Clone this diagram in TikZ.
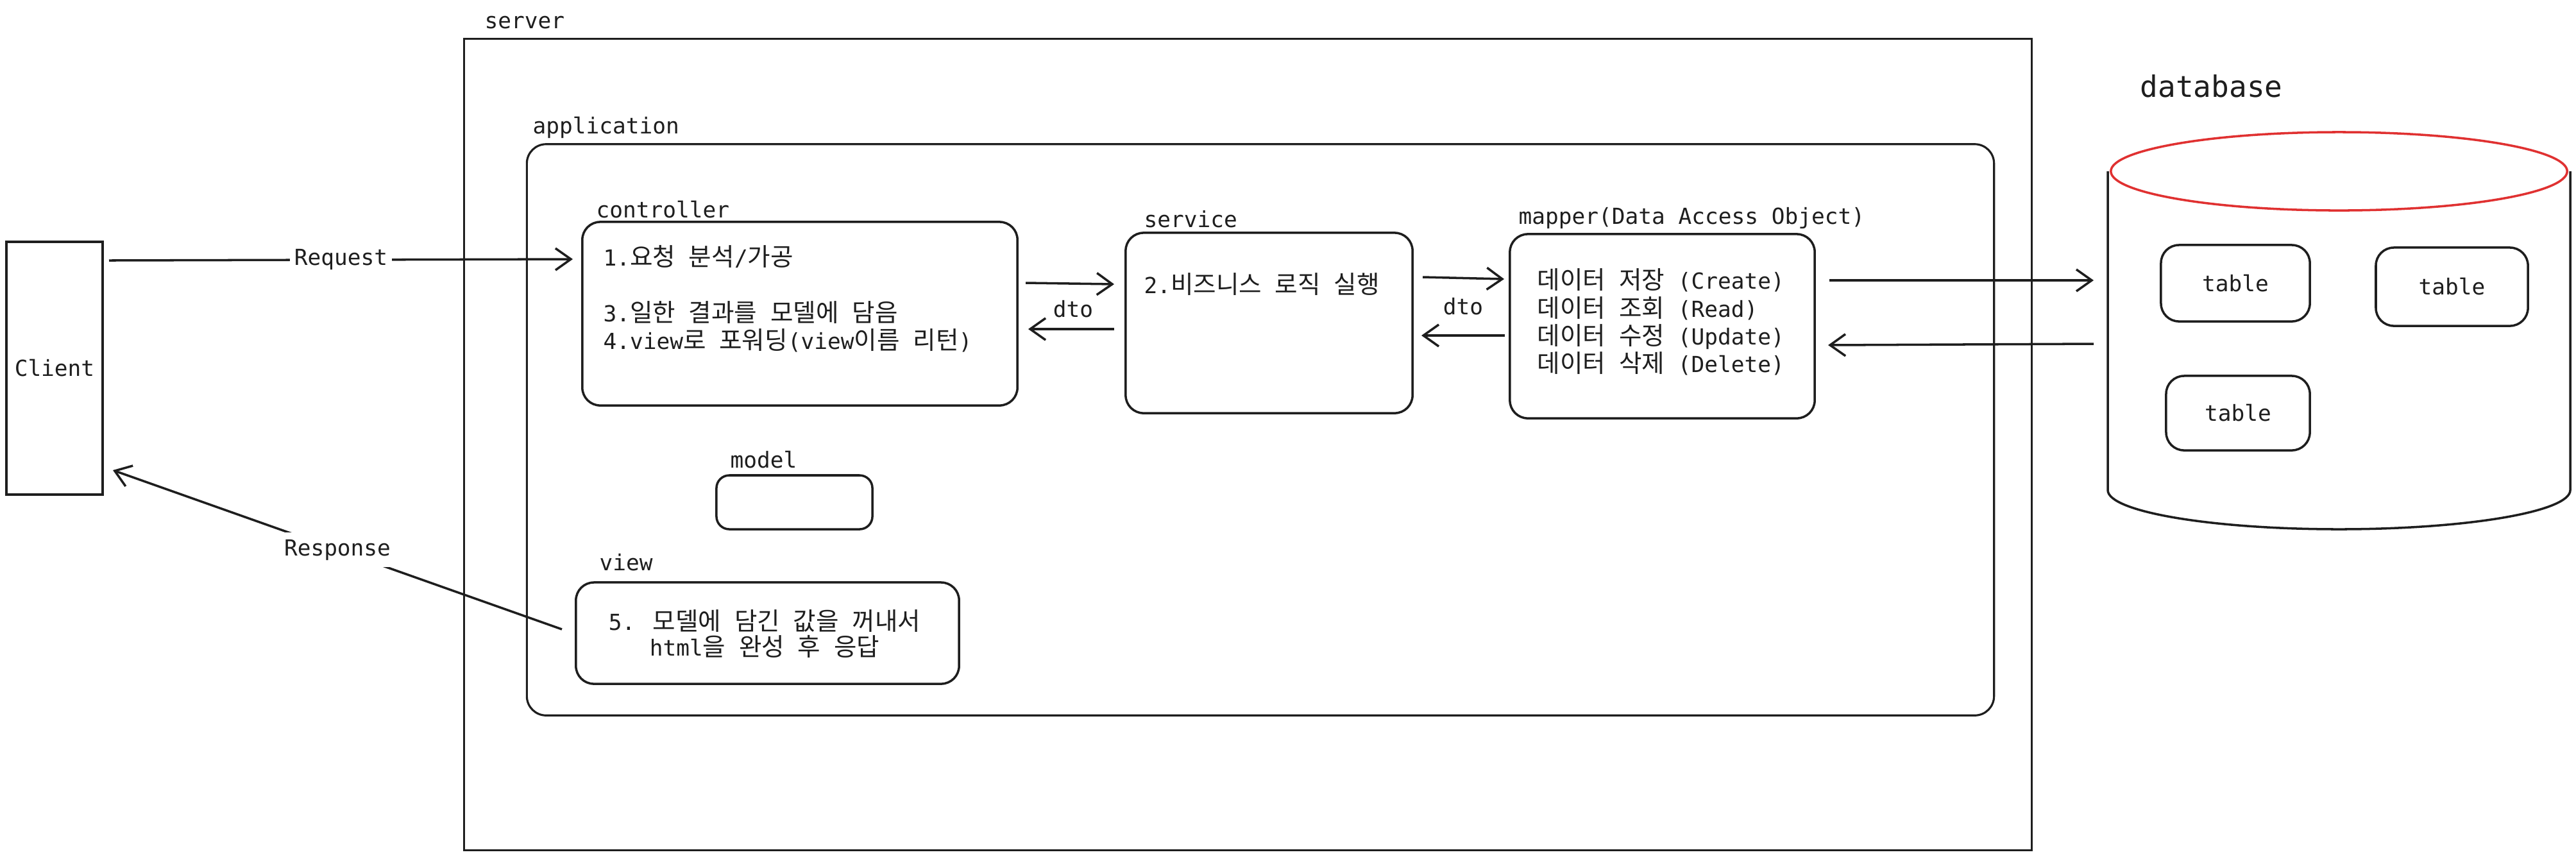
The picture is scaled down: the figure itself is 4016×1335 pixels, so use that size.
\documentclass[tikz,border=0pt]{standalone}
\usepackage{fontspec}
\setmainfont{DejaVu Sans Mono}
\newfontfamily\krfont[Scale=1.12]{Noto Sans CJK KR}
\newcommand\kr[1]{{\krfont #1}}
\usetikzlibrary{arrows.meta}
\definecolor{ink}{HTML}{1E1E1E}
\definecolor{exred}{HTML}{E03131}
\begin{document}
\begin{tikzpicture}[x=0.01cm, y=-0.01cm,
  txt/.style={text=ink, font=\fontsize{9.8}{12.3}\selectfont, inner sep=0pt},
  lbl/.style={txt, anchor=west, text height=0.25cm, text depth=0.07cm},
  box/.style={draw=ink, line width=1pt, rounded corners=0.28cm, inner sep=0pt},
  arr/.style={draw=ink, line width=1pt, -{Straight Barb[length=0.24cm, width=0.34cm, line width=1pt]}},
]
\useasboundingbox[fill=white] (0,0) rectangle (4016,1335);

% containers
\node[draw=ink, line width=0.8pt, minimum width=24.43cm, minimum height=12.64cm, inner sep=0pt] (server) at (1945.5,693) {};
\node[lbl] (serverlbl) at (755,35) {server};
\node[box, line width=0.9pt, rounded corners=0.3cm, minimum width=22.86cm, minimum height=8.90cm] (app) at (1965,670) {};
\node[lbl] (applbl) at (830,199) {application};

% client
\node[draw=ink, line width=1pt, minimum width=1.5cm, minimum height=3.94cm, inner sep=0pt, txt] (client) at (85,574) {Client};

% controller
\node[box, minimum width=6.78cm, minimum height=2.86cm] (ctrl) at (1247,489) {};
\node[lbl] (ctrllbl) at (929,330) {controller};
\node[txt, anchor=west, align=left] (ctrltxt) at (940,466) {1.\kr{요청} \kr{분석}/\kr{가공}\\[12.3pt]
3.\kr{일한} \kr{결과를} \kr{모델에} \kr{담음}\\
4.view\kr{로} \kr{포워딩}(view\kr{이름} \kr{리턴})};

% service
\node[box, minimum width=4.47cm, minimum height=2.81cm] (svc) at (1978.5,503.5) {};
\node[lbl] (svclbl) at (1783,345) {service};
\node[lbl] (svctxt) at (1783,448) {2.\kr{비즈니스} \kr{로직} \kr{실행}};

% mapper
\node[box, minimum width=4.75cm, minimum height=2.87cm] (mapper) at (2591.5,508.5) {};
\node[lbl] (mapperlbl) at (2367,340) {mapper(Data Access Object)};
\node[txt, anchor=west, align=left] (mappertxt) at (2396,502) {\kr{데이터} \kr{저장} (Create)\\
\kr{데이터} \kr{조회} (Read)\\
\kr{데이터} \kr{수정} (Update)\\
\kr{데이터} \kr{삭제} (Delete)};

% model
\node[box, rounded corners=0.2cm, minimum width=2.43cm, minimum height=0.84cm] (model) at (1238.5,783) {};
\node[lbl] (modellbl) at (1138,720) {model};

% view
\node[box, minimum width=5.97cm, minimum height=1.58cm] (view) at (1196.5,987) {};
\node[lbl] (viewlbl) at (934,880) {view};
\node[txt, font=\fontsize{9.8}{11.4}\selectfont, align=center] (viewtxt) at (1192,988) {5. \kr{모델에} \kr{담긴} \kr{값을} \kr{꺼내서}\\
html\kr{을} \kr{완성} \kr{후} \kr{응답}};

% database
\node[lbl, font=\fontsize{13.1}{15}\selectfont, text height=0.33cm, text depth=0.09cm] (dblbl) at (3336,139) {database};
\draw[ink, line width=1pt] (3286,267) -- (3286,764) .. controls (3286,797.7) and (3447.4,825) .. (3646.5,825)
  .. controls (3845.6,825) and (4007,797.7) .. (4007,764) -- (4007,267);
\draw[exred, line width=1pt] (3646.5,267) ellipse [x radius=3.555cm, y radius=0.61cm];
\node[box, minimum width=2.32cm, minimum height=1.19cm, txt] (t1) at (3485,441.5) {table};
\node[box, minimum width=2.37cm, minimum height=1.22cm, txt] (t2) at (3822.5,447) {table};
\node[box, minimum width=2.24cm, minimum height=1.16cm, txt] (t3) at (3489,644) {table};

% connector endpoints
\coordinate (rq1) at (170,406);
\coordinate (rq2) at (893,404);
\coordinate (rs1) at (876,981);
\coordinate (rs2) at (176,733);
\coordinate (cs1) at (1599,441);
\coordinate (cs2) at (1737,443);
\coordinate (sc1) at (1737,513);
\coordinate (sc2) at (1603,513);
\coordinate (sm1) at (2218,432);
\coordinate (sm2) at (2345,435);
\coordinate (ms1) at (2346,523);
\coordinate (ms2) at (2216,523);
\coordinate (md1) at (2852,437);
\coordinate (md2) at (3264,437);
\coordinate (dm1) at (3264,536);
\coordinate (dm2) at (2850,538);

\draw[arr] (rq1) -- node[txt, fill=white, inner sep=2pt] (rqlbl) {Request} (rq2);
\draw[arr] (rs1) -- node[txt, fill=white, inner sep=3pt] (rslbl) {Response} (rs2);
\draw[arr] (cs1) -- (cs2);
\draw[arr] (sc1) -- (sc2);
\node[txt] (dto1) at (1673,482) {dto};
\draw[arr] (sm1) -- (sm2);
\draw[arr] (ms1) -- (ms2);
\node[txt] (dto2) at (2281,478) {dto};
\draw[arr] (md1) -- (md2);
\draw[arr] (dm1) -- (dm2);
\end{tikzpicture}
\end{document}
